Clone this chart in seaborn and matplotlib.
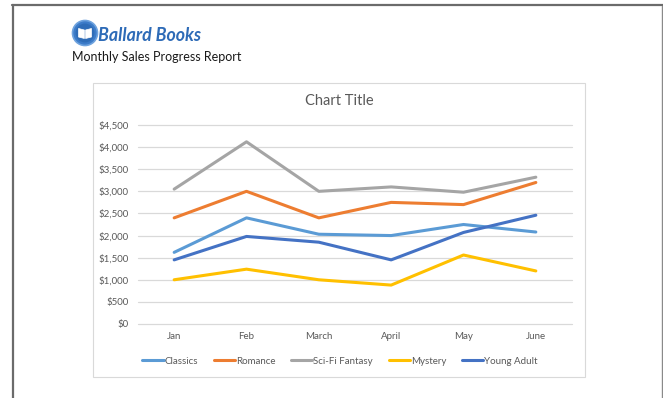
import matplotlib
matplotlib.use("Agg")
import matplotlib.pyplot as plt
import seaborn as sns
import pandas as pd
from matplotlib.patches import Rectangle, Circle, Polygon
from matplotlib.lines import Line2D
from matplotlib.ticker import FuncFormatter, MultipleLocator

# ---- data -------------------------------------------------------------
months = ["Jan", "Feb", "March", "April", "May", "June"]
classics = [1620, 2400, 2030, 2000, 2250, 2080]
romance = [2400, 3000, 2400, 2750, 2700, 3200]
scifi_fantasy = [3050, 4120, 3000, 3100, 2980, 3320]
mystery = [1000, 1240, 1000, 880, 1560, 1200]
young_adult = [1450, 1980, 1850, 1450, 2070, 2460]

genres = ["Classics", "Romance", "Sci-Fi Fantasy", "Mystery", "Young Adult"]
genre_values = [classics, romance, scifi_fantasy, mystery, young_adult]
genre_colors = ["#5B9BD5", "#ED7D31", "#A5A5A5", "#FFC000", "#4472C4"]

df = pd.DataFrame(
    [(m, g, v) for g, vals in zip(genres, genre_values) for m, v in zip(months, vals)],
    columns=["Month", "Genre", "Sales"],
)

# ---- figure / page ---------------------------------------------------
W, H = 663, 398
DPI = 100
sns.set_theme(style="white")
plt.rcParams["font.family"] = ["Lato", "DejaVu Sans"]

fig = plt.figure(figsize=(W / DPI, H / DPI), dpi=DPI)
fig.patch.set_facecolor("white")


def fx(x):
    return x / W


def fy(y):
    return 1 - y / H


def inch(x, y):
    # pixel position (from top-left) to inches from bottom-left
    return (x / DPI, (H - y) / DPI)


# page border
fig.add_artist(Line2D([fx(12), fx(663)], [fy(5), fy(5)], color="#6B6B6B", lw=1.6))
fig.add_artist(Line2D([fx(13), fx(13)], [fy(5), fy(398)], color="#6B6B6B", lw=1.6))
fig.add_artist(Line2D([fx(662), fx(662)], [fy(6), fy(398)], color="#8A8A8A", lw=1.0))

# logo: round badge with an open book
inch_tr = fig.dpi_scale_trans
fig.add_artist(Circle(inch(85, 33), 12.5 / DPI, transform=inch_tr,
                      facecolor="#3D7CC9", edgecolor="#6FA3DE", lw=1.2))
fig.add_artist(Circle(inch(85, 33), 9.5 / DPI, transform=inch_tr,
                      facecolor="#2F6DB8", edgecolor="none"))
left_page = [(78.5, 28.5), (84.4, 30), (84.4, 38.5), (78.5, 37)]
right_page = [(85.6, 30), (91.5, 28.5), (91.5, 37), (85.6, 38.5)]
for page in (left_page, right_page):
    fig.add_artist(Polygon([inch(a, b) for a, b in page], closed=True,
                           transform=inch_tr, facecolor="white",
                           edgecolor="white", lw=0.5))
fig.text(fx(98), fy(41), "Ballard Books", fontsize=12.8, fontweight="bold",
         fontstyle="italic", color="#2E6BB7", ha="left", va="baseline")
fig.text(fx(72), fy(57), "Monthly Sales Progress Report", fontsize=9,
         color="#1A1A1A", ha="left", va="center")

# chart container
fig.add_artist(Rectangle((fx(93), fy(377)), (585 - 93) / W, (377 - 83) / H,
                         transform=fig.transFigure, facecolor="white",
                         edgecolor="#D9D9D9", lw=0.8, zorder=0))
fig.text(fx(339), fy(101), "Chart Title", fontsize=10.5, color="#595959",
         ha="center", va="center")

# ---- plot area -----------------------------------------------------------
ax = fig.add_axes([fx(138), fy(324), (572 - 138) / W, (324 - 125) / H])
ax.set_facecolor("none")
sns.lineplot(data=df, x="Month", y="Sales", hue="Genre", hue_order=genres,
             palette=genre_colors, linewidth=2.2, sort=False, legend=False,
             ax=ax)

ax.set_xlim(-0.5, len(months) - 0.5)
ax.set_ylim(0, 4500)
ax.yaxis.set_major_locator(MultipleLocator(500))
ax.yaxis.set_major_formatter(FuncFormatter(lambda v, _: f"${v:,.0f}"))
ax.grid(axis="y", color="#D9D9D9", lw=0.9)
ax.grid(axis="x", visible=False)
ax.set_axisbelow(True)
for gl in ax.get_ygridlines():
    gl.set_clip_on(False)
for s in ax.spines.values():
    s.set_visible(False)
ax.set_xlabel("")
ax.set_ylabel("")
ax.tick_params(axis="both", length=0, labelsize=7, labelcolor="#595959")
ax.tick_params(axis="y", pad=6.5)
ax.tick_params(axis="x", pad=5.5)

handles = [Line2D([0], [0], color=c, lw=2.2) for c in genre_colors]
fig.legend(handles, genres, loc="center", bbox_to_anchor=(fx(340), fy(361)),
           ncol=5, frameon=False, fontsize=7, labelcolor="#595959",
           handlelength=2.2, handletextpad=0.1, columnspacing=1.6)

fig.savefig("out.png", dpi=DPI, facecolor="white")
